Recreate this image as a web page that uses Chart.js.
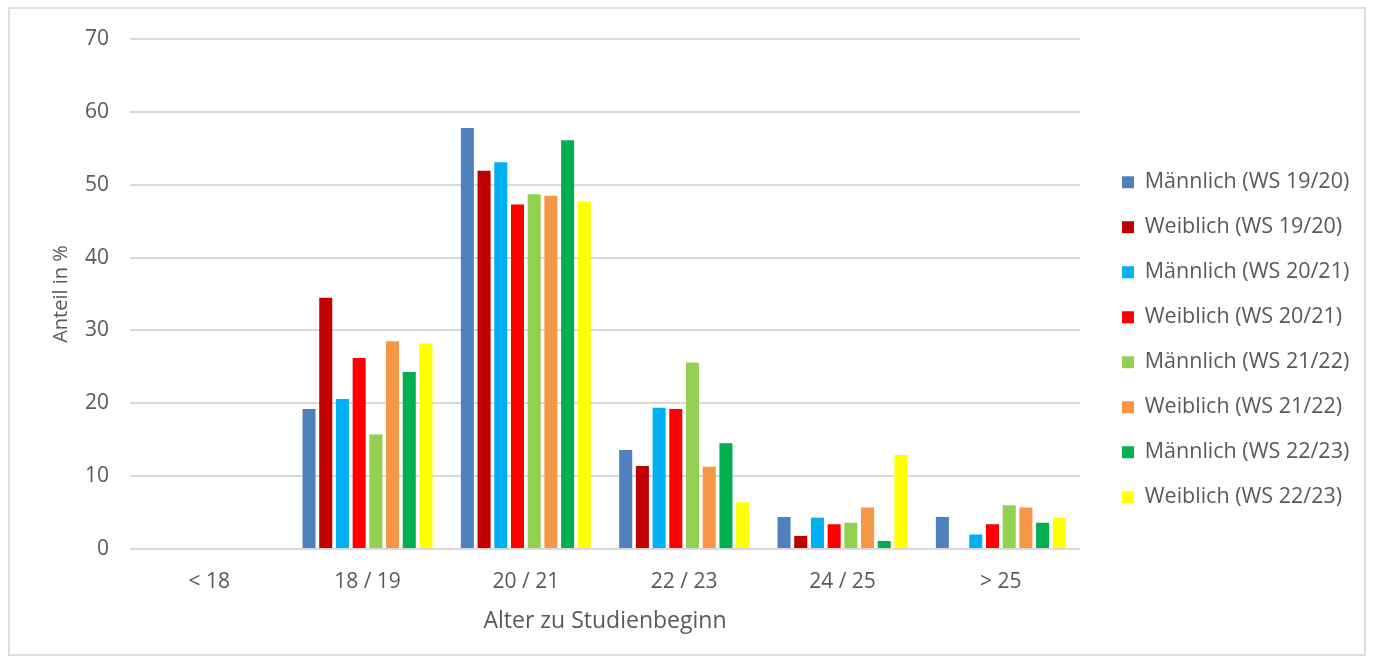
<!DOCTYPE html>
<html lang="de">
<head>
<meta charset="utf-8">
<title>Alter zu Studienbeginn</title>
<script src="https://cdn.jsdelivr.net/npm/chart.js@4.4.1/dist/chart.umd.min.js"></script>
<style>
    html, body { margin: 0; padding: 0; background: #ffffff; }
    .chart-box { position: relative; width: 1373px; height: 662px; }
    .rahmen {
        position: absolute; left: 8px; top: 7px; width: 1358px; height: 649px;
        border: 2px solid #dedede; box-sizing: border-box; pointer-events: none;
    }
</style>
</head>
<body>
<div class="chart-box">
    <canvas id="alterChart"></canvas>
    <div class="rahmen"></div>
</div>
<script>
// Daten
const kategorien = ['< 18', '18 / 19', '20 / 21', '22 / 23', '24 / 25', '> 25'];

const maennlich1920 = [0, 19.2, 57.8, 13.6, 4.4, 4.4];
const weiblich1920  = [0, 34.5, 51.9, 11.4, 1.8, 0];
const maennlich2021 = [0, 20.6, 53.1, 19.4, 4.3, 2.0];
const weiblich2021  = [0, 26.2, 47.3, 19.2, 3.4, 3.4];
const maennlich2122 = [0, 15.7, 48.7, 25.6, 3.6, 6.0];
const weiblich2122  = [0, 28.5, 48.5, 11.3, 5.7, 5.7];
const maennlich2223 = [0, 24.3, 56.1, 14.5, 1.1, 3.6];
const weiblich2223  = [0, 28.2, 47.7, 6.4, 12.9, 4.3];

const serienNamen = [
    'Männlich (WS 19/20)', 'Weiblich (WS 19/20)',
    'Männlich (WS 20/21)', 'Weiblich (WS 20/21)',
    'Männlich (WS 21/22)', 'Weiblich (WS 21/22)',
    'Männlich (WS 22/23)', 'Weiblich (WS 22/23)'
];

document.addEventListener("DOMContentLoaded", () => {

    const textFarbe = '#595959';
    const gitterFarbe = '#d9d9d9';
    const farben = ['#4f81bd', '#c00000', '#00b0f0', '#ff0000', '#92d050', '#f79646', '#00b050', '#ffff00'];
    const serien = [maennlich1920, weiblich1920, maennlich2021, weiblich2021,
                    maennlich2122, weiblich2122, maennlich2223, weiblich2223];

    // Legende rechts neben der Zeichenfläche platzieren
    const legendePosition = {
        id: 'legendePosition',
        beforeLayout(chart) {
            const legend = chart.legend;
            if (legend && !legend._gepatcht) {
                const origFit = legend.fit;
                legend.fit = function () {
                    origFit.call(this);
                    this.width = 293;
                };
                legend._gepatcht = true;
            }
        },
        afterLayout(chart) {
            const legend = chart.legend;
            legend.left = 1098.5;
            legend.right = legend.left + legend.width;
            legend.top = 148;
            legend.bottom = legend.top + legend.height;
        }
    };

    const ctx = document.getElementById('alterChart');

    new Chart(ctx, {
        type: 'bar',
        data: {
            labels: kategorien,
            datasets: serien.map((werte, i) => ({
                label: serienNamen[i],
                data: werte,
                backgroundColor: farben[i],
                borderWidth: 0,
                categoryPercentage: 0.844,
                barPercentage: 0.78
            }))
        },
        options: {
            responsive: true,
            maintainAspectRatio: false,
            animation: false,
            layout: { padding: { top: 39, left: 0, right: 0, bottom: 0 } },
            plugins: {
                tooltip: { enabled: false },
                legend: {
                    position: 'right',
                    align: 'start',
                    labels: {
                        color: textFarbe,
                        boxWidth: 12,
                        boxHeight: 12,
                        padding: 23.5,
                        font: { family: 'Open Sans', size: 21.5 }
                    }
                }
            },
            scales: {
                x: {
                    grid: { display: false },
                    border: { display: false },
                    ticks: {
                        color: textFarbe,
                        padding: 12,
                        font: { family: 'Open Sans', size: 21 }
                    },
                    title: {
                        display: true,
                        text: 'Alter zu Studienbeginn',
                        color: textFarbe,
                        font: { family: 'Open Sans', size: 23 },
                        padding: { top: 27, bottom: 27 }
                    },
                    afterFit(scale) { scale.height = 113; }
                },
                y: {
                    min: 0,
                    max: 70,
                    grid: { color: gitterFarbe, lineWidth: 2, drawTicks: false },
                    border: { display: false },
                    ticks: {
                        stepSize: 10,
                        color: textFarbe,
                        padding: 21,
                        font: { family: 'Open Sans', size: 21 }
                    },
                    title: {
                        display: true,
                        text: 'Anteil in %',
                        color: textFarbe,
                        font: { family: 'Open Sans', size: 20 },
                        padding: { top: 49, bottom: 49 }
                    },
                    afterFit(scale) { scale.width = 130; }
                }
            }
        },
        plugins: [legendePosition]
    });
});
</script>
</body>
</html>
